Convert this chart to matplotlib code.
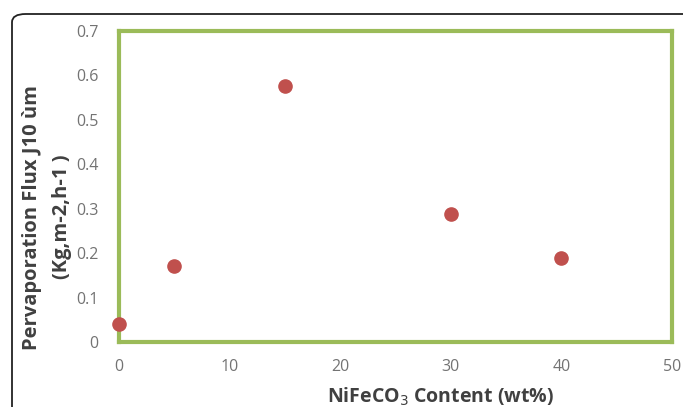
import matplotlib.pyplot as plt
from matplotlib.patches import FancyBboxPatch

# data
content = [0, 5, 15, 30, 40]
flux = [0.04, 0.171, 0.577, 0.287, 0.19]
x_ticks = [0, 10, 20, 30, 40, 50]
y_ticks = [0, 0.1, 0.2, 0.3, 0.4, 0.5, 0.6, 0.7]

plt.rcParams['font.family'] = ['Open Sans', 'DejaVu Sans']

fig = plt.figure(figsize=(6.83, 4.07), dpi=100)
ax = fig.add_axes([119 / 683, 1 - 342 / 407, 553 / 683, 311 / 407])

# outer rounded frame, runs off the right and bottom edges
frame = FancyBboxPatch((12 / 683, -0.1), 1.1, 0.1 + (1 - 14 / 407),
                       boxstyle='round,pad=0,rounding_size=0.02',
                       transform=fig.transFigure, fill=False,
                       edgecolor='#222222', linewidth=1.3, clip_on=False)
fig.patches.append(frame)

ax.plot(content, flux, 'o', color='#C0504D', markersize=9.5, clip_on=False, zorder=5)

ax.set_xlim(0, 50)
ax.set_ylim(0, 0.7)
ax.set_xticks(x_ticks)
ax.set_yticks(y_ticks)
ax.set_yticklabels(['0'] + [f'{v:.1f}' for v in y_ticks[1:]])
ax.tick_params(length=0, labelsize=11.5, labelcolor='#737373')
ax.tick_params(axis='x', pad=12)
ax.tick_params(axis='y', pad=15)

for s in ax.spines.values():
    s.set_color('#9BBB59')
    s.set_linewidth(3)

fig.text(32 / 683, 1 - 217 / 407, 'Pervaporation Flux J10 ùm', rotation=90,
         ha='center', va='center', fontsize=14.5, fontweight='bold', color='#404040')
fig.text(62 / 683, 1 - 217 / 407, '(Kg,m-2,h-1 )', rotation=90,
         ha='center', va='center', fontsize=14.5, fontweight='bold', color='#404040')
fig.text(441 / 683, 1 - 397 / 407, 'NiFeCO$_3$ Content (wt%)',
         ha='center', va='center', fontsize=14, fontweight='bold', color='#404040')

fig.savefig('out.png', dpi=100)
